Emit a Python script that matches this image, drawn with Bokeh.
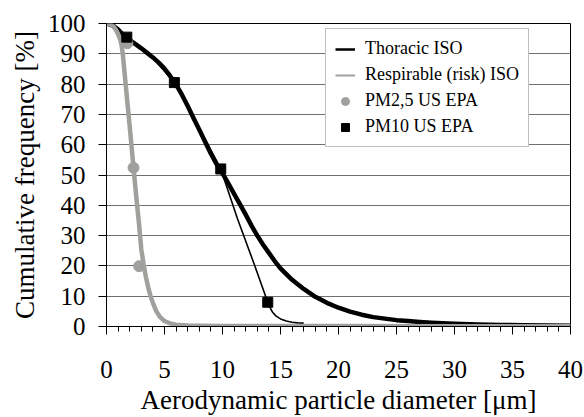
from bokeh.plotting import figure
from bokeh.models import (ColumnDataSource, Range1d, FixedTicker, Legend, LegendItem)
from bokeh.embed import file_html
from bokeh.resources import INLINE

# ---- data ----
thoracic_x = [0, 0.5, 1.0, 1.5, 2.0, 2.5, 3.0, 3.5, 4.0, 4.5, 5.0, 5.5, 6.0, 6.5, 7.0, 7.5,
              8.0, 8.5, 9.0, 9.5, 10.0, 10.5, 11.0, 11.5, 12.0, 12.5, 13.0, 13.5, 14.0, 14.5,
              15.0, 16.0, 17.0, 18.0, 19.0, 20.0, 21.0, 22.0, 23.0, 24.0, 25.0, 26.0, 27.0,
              28.0, 30.0, 32.0, 34.0, 36.0, 38.0, 40.0]
thoracic_y = [100, 99.5, 98, 96, 94.5, 93.2, 91.8, 90.3, 88.8, 87.1, 85.1, 82.6, 79.8, 76.5,
              72.8, 68.8, 64.9, 61.0, 57.0, 53.5, 50.5, 47.2, 43.8, 40.4, 36.9, 33.3, 30.0,
              27.0, 24.3, 21.6, 19.2, 15.4, 12.4, 9.8, 7.8, 6.2, 4.9, 3.9, 3.1, 2.6, 2.1, 1.8,
              1.5, 1.25, 0.9, 0.7, 0.5, 0.4, 0.3, 0.25]

resp_x = [0, 0.3, 0.6, 0.8, 1.0, 1.2, 1.3, 1.4, 1.6, 1.8, 2.0, 2.2, 2.4, 2.6, 2.8, 3.0, 3.2,
          3.4, 3.6, 3.8, 4.0, 4.3, 4.6, 5.0, 5.5, 6.0, 7.0, 8.0, 10.0, 20.0, 30.0, 40.0]
resp_y = [100, 99.8, 99.0, 98.0, 96.5, 94.5, 92.8, 90.2, 82, 74, 66, 57.8, 49.5, 41.5, 34.0,
          25.5, 20.5, 16.3, 12.8, 10.0, 7.8, 5.0, 3.2, 1.8, 1.0, 0.6, 0.35, 0.25, 0.2, 0.15,
          0.1, 0.1]

pm10_line_x = [0, 1.75, 3.7, 5.85, 8.1, 9.85, 11.3, 12.72, 13.9, 14.1, 14.3, 14.6, 15.0,
               15.5, 16.0, 16.5, 17.0]
pm10_line_y = [100, 95.5, 90, 80.5, 64.7, 52, 35.5, 20.7, 8.0, 6.2, 4.8, 3.5, 2.5, 1.8,
               1.4, 1.2, 1.1]

pm25_x = [1.8, 2.33, 2.81]
pm25_y = [93.5, 52.4, 19.9]

pm10_x = [1.75, 5.85, 9.85, 13.9]
pm10_y = [95.5, 80.5, 52, 8.0]

x_ticks = [0, 5, 10, 15, 20, 25, 30, 35, 40]
y_ticks = [0, 10, 20, 30, 40, 50, 60, 70, 80, 90, 100]

FONT = "Liberation Serif"
GRAY = "#a0a09c"

p = figure(width=584, height=417, output_backend="svg", toolbar_location=None,
           x_range=Range1d(0, 40), y_range=Range1d(0, 100),
           min_border_left=106, min_border_right=14, min_border_top=23, min_border_bottom=91)
p.background_fill_color = "white"
p.border_fill_color = "white"
p.outline_line_color = "black"
p.outline_line_width = 1

# grid
p.xgrid.grid_line_color = None
p.ygrid.grid_line_color = "#707070"
p.ygrid.grid_line_width = 1

# axes
p.xaxis.ticker = FixedTicker(ticks=x_ticks, minor_ticks=list(range(0, 41)))
p.yaxis.ticker = FixedTicker(ticks=y_ticks)
for ax in (p.xaxis, p.yaxis):
    ax.axis_line_color = "black"
    ax.axis_line_width = 1
    ax.major_tick_line_color = "black"
    ax.major_tick_in = 0
    ax.major_tick_out = 8
    ax.minor_tick_in = 0
    ax.major_label_text_font = FONT
    ax.major_label_text_font_size = "25px"
    ax.major_label_text_color = "black"
    ax.axis_label_text_font = FONT
    ax.axis_label_text_font_size = "27px"
    ax.axis_label_text_font_style = "normal"
    ax.axis_label_text_color = "black"
p.xaxis.minor_tick_line_color = "black"
p.xaxis.minor_tick_out = 5
p.yaxis.minor_tick_line_color = None
p.xaxis.major_label_standoff = 26
p.yaxis.major_label_standoff = 13
p.xaxis.axis_label = "Aerodynamic particle diameter [μm]"
p.yaxis.axis_label = "Cumulative frequency [%]"
p.xaxis.axis_label_standoff = 4
p.yaxis.axis_label_standoff = 5

# series
p.line(pm10_line_x, pm10_line_y, line_color="black", line_width=1.6)
p.line(thoracic_x, thoracic_y, line_color="black", line_width=4.5, line_join="round")
p.line(resp_x, resp_y, line_color=GRAY, line_width=4.5, line_join="round")
p.scatter(pm25_x, pm25_y, marker="circle", size=11, fill_color=GRAY, line_color=GRAY)
p.scatter(pm10_x, pm10_y, marker="square", size=10, fill_color="black", line_color="black")

# legend proxies (thinner glyphs as in the reference legend), placed off-range
proxy = ColumnDataSource(data=dict(x=[-100], y=[-100]))
r_th = p.line("x", "y", source=proxy, line_color="black", line_width=2.5)
r_rs = p.line("x", "y", source=proxy, line_color=GRAY, line_width=2)
r_25 = p.scatter("x", "y", source=proxy, marker="circle", size=9, fill_color=GRAY, line_color=GRAY)
r_10 = p.scatter("x", "y", source=proxy, marker="square", size=8, fill_color="black", line_color="black")

legend = Legend(items=[
    LegendItem(label="Thoracic ISO", renderers=[r_th]),
    LegendItem(label="Respirable (risk) ISO", renderers=[r_rs]),
    LegendItem(label="PM2,5 US EPA", renderers=[r_25]),
    LegendItem(label="PM10 US EPA", renderers=[r_10]),
], location=(219, 179))
legend.label_text_font = FONT
legend.label_text_font_size = "18px"
legend.label_text_color = "black"
legend.label_height = 20
legend.glyph_height = 20
legend.glyph_width = 20
legend.label_standoff = 10
legend.spacing = 5
legend.padding = 9
legend.margin = 0
legend.border_line_color = "#808080"
legend.border_line_width = 1
legend.background_fill_color = "white"
legend.background_fill_alpha = 1
p.add_layout(legend)

open("out.html", "w").write(file_html(p, INLINE))
